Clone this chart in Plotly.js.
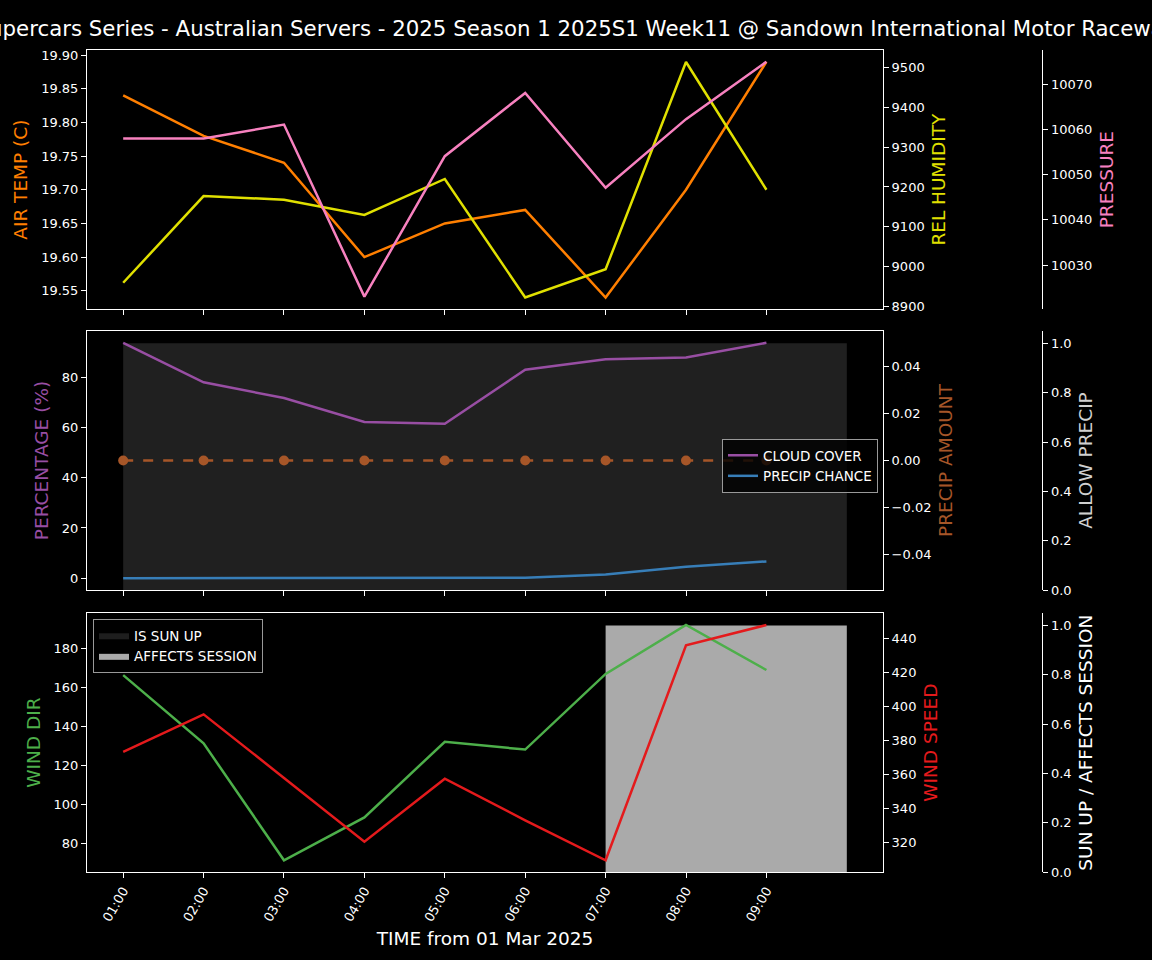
<!DOCTYPE html>
<html><head><meta charset="utf-8">
<script src="https://cdn.plot.ly/plotly-3.0.1.min.js"></script>
<style>html,body{margin:0;padding:0;background:#000;}#chart{width:1152px;height:960px;}</style>
</head><body><div id="chart"></div>
<script>
// ---- data ----
const times = ['2025-03-01 01:00','2025-03-01 02:00','2025-03-01 03:00','2025-03-01 04:00','2025-03-01 05:00','2025-03-01 06:00','2025-03-01 07:00','2025-03-01 08:00','2025-03-01 09:00'];
const tickLabels = ['01:00','02:00','03:00','04:00','05:00','06:00','07:00','08:00','09:00'];
const spanTimes = ['2025-03-01 01:00','2025-03-01 02:00','2025-03-01 03:00','2025-03-01 04:00','2025-03-01 05:00','2025-03-01 06:00','2025-03-01 07:00','2025-03-01 08:00','2025-03-01 09:00','2025-03-01 10:00'];
const airTemp = [19.84, 19.78, 19.74, 19.60, 19.65, 19.67, 19.54, 19.70, 19.89];
const relHumidity = [8960, 9177, 9168, 9130, 9220, 8923, 8994, 9513, 9193];
const pressure = [10058.0, 10058.0, 10061.1, 10023.0, 10054.1, 10068.1, 10047.1, 10062.3, 10075.0];
const cloudCover = [93.7, 78.0, 71.7, 62.2, 61.5, 83.0, 87.2, 87.9, 93.7];
const precipChance = [0, 0, 0, 0, 0, 0.2, 1.5, 4.6, 6.7];
const precipAmount = [0, 0, 0, 0, 0, 0, 0, 0, 0];
const allowPrecip = [1, 1, 1, 1, 1, 1, 1, 1, 1, 1];
const windDir = [166.4, 131.4, 71.4, 93.4, 132.2, 128.2, 167.0, 192.1, 169.0];
const windSpeed = [373.3, 395.5, 358.0, 320.4, 357.5, 333.0, 309.4, 436.2, 448.2];
const isSunUp = [0, 0, 0, 0, 0, 0, 0, 0, 0, 0];
const affectsSession = [0, 0, 0, 0, 0, 0, 1, 1, 1, 1];

// ---- style ----
const F = 'DejaVu Sans';
const C = {temp:'#ff7f00', hum:'#e0e000', pres:'#f781bf', cloud:'#984ea3', chance:'#377eb8',
           amount:'#a65628', allow:'#d0d0d0', wdir:'#4daf4a', wspd:'#e41a1c', sun:'#ffffff'};
const XD = [87/1152, 883/1152];
const FREEPOS = 1042.3/1152;
const D1 = [1-309.3/960, 1-50/960], D2 = [1-590/960, 1-331/960], D3 = [1-872/960, 1-613.3/960];
const XR = ['2025-03-01 00:33', '2025-03-01 10:27'];
const LW = 2.5;

function ax(extra){
  return Object.assign({showgrid:false, zeroline:false, showline:true, linecolor:'white', linewidth:1,
    ticks:'outside', ticklen:5, tickwidth:1, tickcolor:'white',
    tickfont:{family:F, size:13, color:'white'}, automargin:false}, extra);
}
function ttl(text, color, standoff){
  return {text:text, font:{family:F, size:18.5, color:color}, standoff:standoff};
}
function xax(anchor, extra){
  return ax(Object.assign({type:'date', domain:XD, anchor:anchor, range:XR, mirror:true,
    tickmode:'array', tickvals:times, ticktext:tickLabels}, extra));
}

const traces = [
  // top panel
  {x:times, y:airTemp, xaxis:'x', yaxis:'y', type:'scatter', mode:'lines', line:{color:C.temp, width:LW}, showlegend:false, name:'AIR TEMP'},
  {x:times, y:relHumidity, xaxis:'x', yaxis:'y2', type:'scatter', mode:'lines', line:{color:C.hum, width:LW}, showlegend:false, name:'REL HUMIDITY'},
  {x:times, y:pressure, xaxis:'x', yaxis:'y3', type:'scatter', mode:'lines', line:{color:C.pres, width:LW}, showlegend:false, name:'PRESSURE'},
  // middle panel
  {x:spanTimes, y:allowPrecip, xaxis:'x2', yaxis:'y4', type:'scatter', mode:'lines', line:{width:0, shape:'hv'}, fill:'tozeroy', fillcolor:'rgb(32,32,32)', showlegend:false, name:'ALLOW PRECIP'},
  {x:times, y:cloudCover, xaxis:'x2', yaxis:'y5', type:'scatter', mode:'lines', line:{color:C.cloud, width:LW}, name:'CLOUD COVER', legend:'legend'},
  {x:times, y:precipChance, xaxis:'x2', yaxis:'y5', type:'scatter', mode:'lines', line:{color:C.chance, width:LW}, name:'PRECIP CHANCE', legend:'legend'},
  {x:times, y:precipAmount, xaxis:'x2', yaxis:'y6', type:'scatter', mode:'lines+markers', line:{color:C.amount, width:2.5, dash:'10px,10px'}, marker:{color:C.amount, size:10}, showlegend:false, name:'PRECIP AMOUNT'},
  // bottom panel
  {x:spanTimes, y:isSunUp, xaxis:'x3', yaxis:'y7', type:'scatter', mode:'lines', line:{width:0, shape:'hv', color:'rgb(30,30,30)'}, fill:'tozeroy', fillcolor:'rgb(30,30,30)', name:'IS SUN UP', legend:'legend2'},
  {x:spanTimes, y:affectsSession, xaxis:'x3', yaxis:'y7', type:'scatter', mode:'lines', line:{width:0, shape:'hv', color:'#aaaaaa'}, fill:'tozeroy', fillcolor:'#aaaaaa', name:'AFFECTS SESSION', legend:'legend2'},
  {x:times, y:windDir, xaxis:'x3', yaxis:'y8', type:'scatter', mode:'lines', line:{color:C.wdir, width:LW}, showlegend:false, name:'WIND DIR'},
  {x:times, y:windSpeed, xaxis:'x3', yaxis:'y9', type:'scatter', mode:'lines', line:{color:C.wspd, width:LW}, showlegend:false, name:'WIND SPEED'}
];

const legendStyle = {bgcolor:'rgba(0,0,0,0.8)', bordercolor:'#999999', borderwidth:1,
  font:{family:F, size:13.5, color:'white'}, xanchor:'left', yanchor:'top', xref:'paper', yref:'paper'};

const layout = {
  width:1152, height:960,
  paper_bgcolor:'black', plot_bgcolor:'black',
  margin:{l:0, r:0, t:0, b:0},
  font:{family:F, color:'white'},
  title:{text:'Supercars Series - Australian Servers - 2025 Season 1 2025S1 Week11 @ Sandown International Motor Raceway',
    font:{family:F, size:21.3, color:'white'}, x:0.5, xanchor:'center', xref:'paper', y:1-29/960, yref:'container', yanchor:'middle'},
  showlegend:true,
  legend:Object.assign({x:722/1152, y:1-439/960}, legendStyle),
  legend2:Object.assign({x:93/1152, y:1-619/960}, legendStyle),
  xaxis: xax('y', {showticklabels:false}),
  xaxis2: xax('y4', {showticklabels:false}),
  xaxis3: xax('y7', {tickangle:-60, title:ttl('TIME from 01 Mar 2025', 'white', 8)}),
  // top panel
  yaxis: ax({domain:D1, anchor:'x', side:'left', range:[19.5225, 19.9075], dtick:0.05, tickformat:'.2f', title:ttl('AIR TEMP (C)', C.temp, 8)}),
  yaxis2: ax({overlaying:'y', anchor:'x', side:'right', range:[8893.5, 9543], dtick:100, tickformat:'d', title:ttl('REL HUMIDITY', C.hum, 8)}),
  yaxis3: ax({overlaying:'y', anchor:'free', position:FREEPOS, side:'right', range:[10020.2, 10077.6], dtick:10, tickformat:'d', title:ttl('PRESSURE', C.pres, 8)}),
  // middle panel
  yaxis4: ax({domain:D2, anchor:'free', position:FREEPOS, side:'right', range:[0, 1.05], dtick:0.2, tickformat:'.1f', title:ttl('ALLOW PRECIP', C.allow, 8)}),
  yaxis5: ax({overlaying:'y4', anchor:'x2', side:'left', range:[-4.685, 98.4], dtick:20, title:ttl('PERCENTAGE (%)', C.cloud, 8)}),
  yaxis6: ax({overlaying:'y4', anchor:'x2', side:'right', range:[-0.055, 0.055], dtick:0.02, tickformat:'.2f', title:ttl('PRECIP AMOUNT', C.amount, 8)}),
  // bottom panel
  yaxis7: ax({domain:D3, anchor:'free', position:FREEPOS, side:'right', range:[0, 1.05], dtick:0.2, tickformat:'.1f', title:ttl('SUN UP / AFFECTS SESSION', C.sun, 8)}),
  yaxis8: ax({overlaying:'y7', anchor:'x3', side:'left', range:[65.4, 198.1], dtick:20, title:ttl('WIND DIR', C.wdir, 8)}),
  yaxis9: ax({overlaying:'y7', anchor:'x3', side:'right', range:[302.5, 455.1], dtick:20, title:ttl('WIND SPEED', C.wspd, 8)})
};

Plotly.newPlot('chart', traces, layout, {displayModeBar:false, staticPlot:true});
</script>
</body></html>
